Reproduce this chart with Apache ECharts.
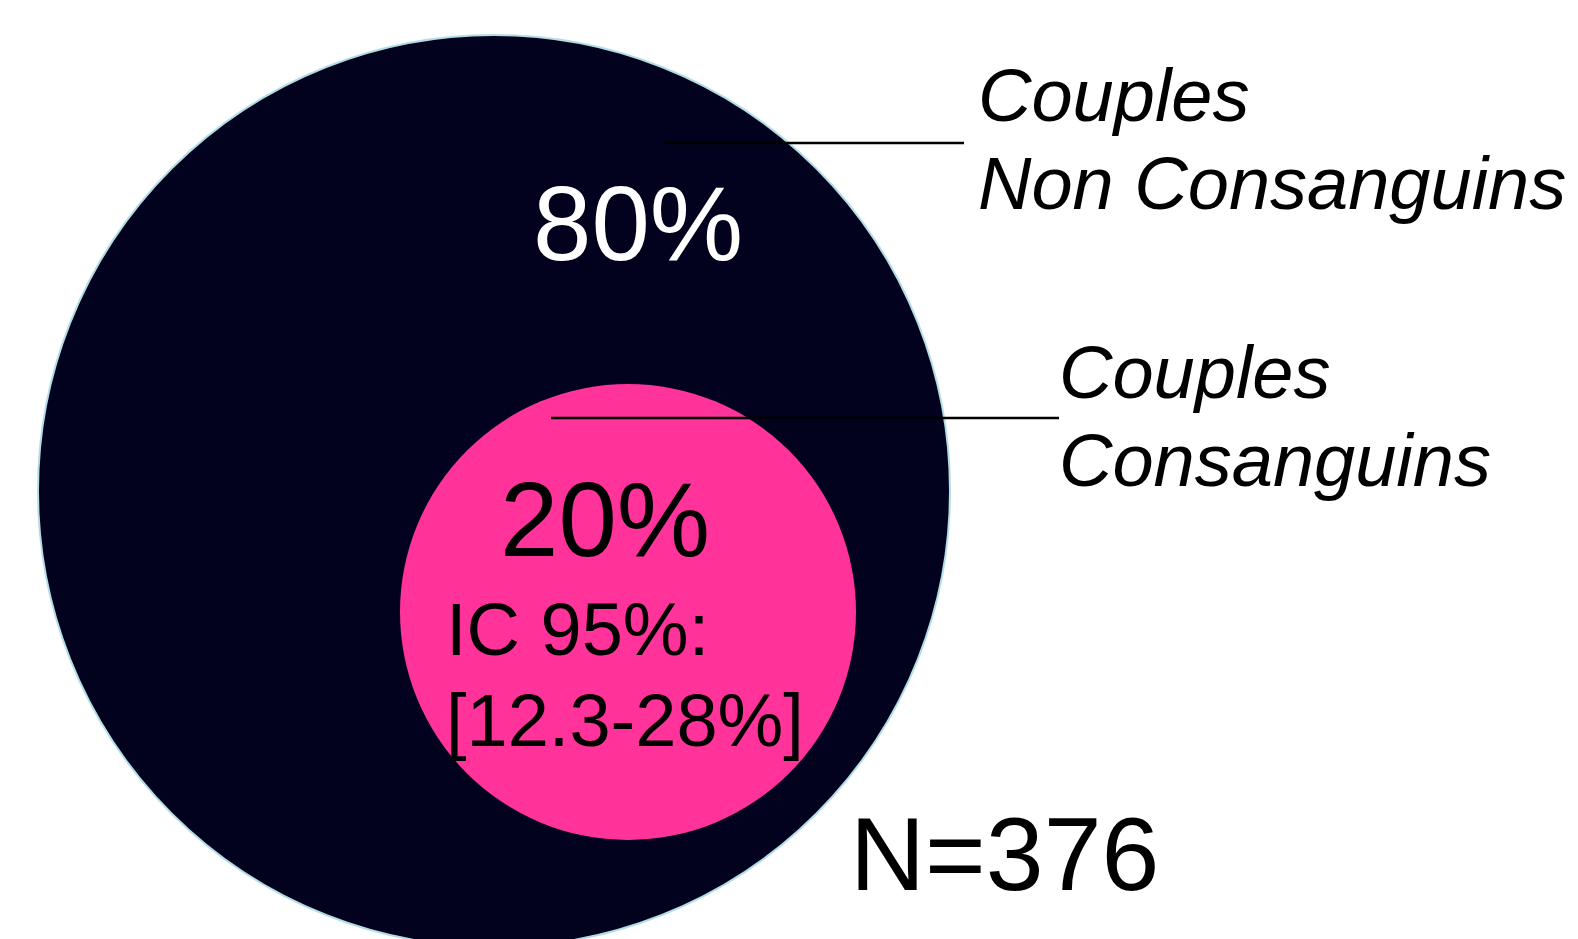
<!DOCTYPE html>
<html>
<head>
<meta charset="utf-8">
<title>Couples consanguins</title>
<script src="https://cdn.jsdelivr.net/npm/echarts@6/dist/echarts.min.js"></script>
<style>
	html,body{margin:0;padding:0;background:#fff;}
	#div_circles{width:1578px;height:939px;}
</style>
</head>
<body>
<div id="div_circles"></div>
<script>
// donnees
var groupNames = ['Couples Non Consanguins', 'Couples Consanguins'];
var groupLines = [['Couples', 'Non Consanguins'], ['Couples', 'Consanguins']];
var shares = [80, 20];          // %
var ciBounds = [12.3, 28];      // IC 95% des consanguins
var sampleSize = 376;

var FONT = '"Liberation Sans", Arial, Helvetica, sans-serif';

// texte place par sa ligne de base
function txt(content, x, baseline, size, color, italic){
	return {
		type: 'text',
		z: 100,
		silent: true,
		style: {
			text: content,
			x: x,
			y: baseline - 0.31 * size,
			fill: color,
			align: 'left',
			verticalAlign: 'middle',
			font: (italic ? 'italic ' : '') + size + 'px ' + FONT
		}
	};
}

function leader(x1, x2, y){
	return {
		type: 'line',
		z: 100,
		silent: true,
		shape: {x1: x1, y1: y, x2: x2, y2: y},
		style: {stroke: '#000', lineWidth: 2.5}
	};
}

function drawCircles(){
	var option = {
		animation: false,
		series: [
			{
				name: groupNames[0],
				type: 'pie',
				center: [494, 491],
				radius: [0, 456],
				silent: true,
				label: {show: false},
				labelLine: {show: false},
				itemStyle: {color: '#02021e', borderColor: '#b3dde4', borderWidth: 2},
				data: [{name: groupNames[0], value: shares[0]}]
			},
			{
				name: groupNames[1],
				type: 'pie',
				center: [628, 612],
				radius: [0, 228],
				silent: true,
				label: {show: false},
				labelLine: {show: false},
				itemStyle: {color: '#ff3399'},
				data: [{name: groupNames[1], value: shares[1]}]
			}
		],
		graphic: [
			leader(664, 964, 143),
			leader(551, 1059, 418),
			txt(groupLines[0][0], 978, 123, 74, '#000', true),
			txt(groupLines[0][1], 978, 211, 74, '#000', true),
			txt(groupLines[1][0], 1059, 400, 74, '#000', true),
			txt(groupLines[1][1], 1059, 488, 74, '#000', true),
			txt(shares[0] + '%', 533, 264, 105, '#fff', false),
			txt(shares[1] + '%', 500, 560, 105, '#000', false),
			txt('IC 95%:', 446, 658, 74, '#000', false),
			txt('[' + ciBounds[0] + '-' + ciBounds[1] + '%]', 446, 749, 74, '#000', false),
			txt('N=' + sampleSize, 850, 894, 104, '#000', false)
		]
	};

	var myChart = echarts.init(document.getElementById('div_circles'));
	myChart.setOption(option);
}

drawCircles();
</script>
</body>
</html>
